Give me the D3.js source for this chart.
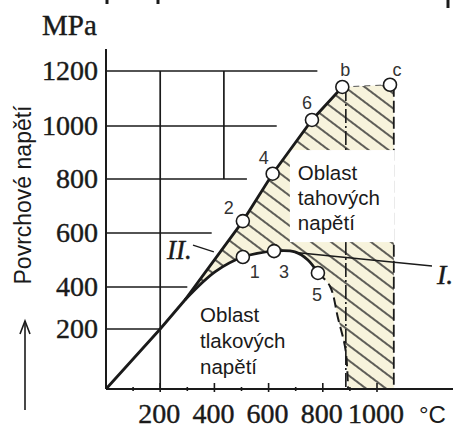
<!DOCTYPE html>
<html><head><meta charset="utf-8">
<script src="https://cdn.jsdelivr.net/npm/d3@7"></script>
<style>html,body{margin:0;padding:0;background:#fff}svg{display:block}</style>
</head><body>
<script>
// Surface stress against temperature: compression and tension areas
const tempTicks = [200, 400, 600, 800, 1000];
const tempMinor = [100, 300, 500, 700, 900];
const stressTicks = [200, 400, 600, 800, 1000, 1200];
// temperature where each horizontal grid line stops
const gridReach = [200, 300, 390, 520, 630, 780];

// upper limit line through points 2, 4, 6, b
const upperTemp = [0, 200, 291, 505, 615, 760, 872];
const upperStress = [0, 200, 338, 644, 820, 1022, 1142];
// lower curve II through points 1, 3, 5
const lowerTemp = [291, 402, 505, 620, 697, 745, 782];
const lowerStress = [338, 456, 511, 533, 530, 500, 452];
// dashed drop from point 5 down to the axis
const dropTemp = [782, 826, 856, 884, 893];
const dropStress = [452, 404, 252, 130, 0];
// marked points
const pointNames = ["1", "2", "3", "4", "5", "6", "b", "c"];
const pointTemp = [505, 505, 620, 615, 782, 760, 872, 1048];
const pointStress = [511, 644, 533, 820, 452, 1022, 1142, 1150];
const bLineTemp = 885;    // vertical through b
const limitTemp = 1062;   // right edge of the tension area
const limitStress = 1150;
// leader lines for curves I and II
const leaderITemp = [700, 1203], leaderIStress = [528, 478];
const leaderIITemp = [321, 398], leaderIIStress = [555, 530];

const W = 456, H = 429;
const x = d3.scaleLinear().domain([0, 1000]).range([106, 377]);
const y = d3.scaleLinear().domain([0, 200, 400, 600, 800, 1000, 1200])
  .range([389, 329, 287, 233, 179, 126, 71]);

const svg = d3.select("body").append("svg").attr("width", W).attr("height", H);
const serif = "'Liberation Serif', 'DejaVu Serif', serif";
const sans = "'Liberation Sans', Arial, sans-serif";
const ink = "#1a1a1a";

const zip = (a, b) => a.map((v, i) => [v, b[i]]);
const upper = zip(upperTemp, upperStress);
const lower = zip(lowerTemp, lowerStress);
const drop = zip(dropTemp, dropStress);

// hatching pattern
const defs = svg.append("defs");
const pat = defs.append("pattern").attr("id", "hatch")
  .attr("patternUnits", "userSpaceOnUse").attr("width", 12).attr("height", 12)
  .attr("patternTransform", "rotate(37)");
pat.append("line").attr("x1", 0).attr("y1", 6).attr("x2", 12).attr("y2", 6)
  .attr("stroke", "#2b2b2b").attr("stroke-width", 1.5);

const lineXY = d3.line().x(d => x(d[0])).y(d => y(d[1]));
const curveXY = d3.line().x(d => x(d[0])).y(d => y(d[1])).curve(d3.curveCatmullRom.alpha(0.5));

// tension area outline: limit line on top, curve II and the drop below
const topPts = upper.slice(2).concat([[pointTemp[7], pointStress[7]], [limitTemp, limitStress], [limitTemp, 0]]);
const outline = lineXY(topPts)
  + curveXY(drop.slice().reverse()).replace(/^M/, "L")
  + curveXY(lower.slice().reverse()).replace(/^M/, "L") + "Z";

svg.append("path").attr("d", outline).attr("fill", "#f7f3dc");
svg.append("path").attr("d", outline).attr("fill", "url(#hatch)");

// grid
stressTicks.forEach((s, i) => {
  svg.append("line").attr("x1", x(0)).attr("x2", x(gridReach[i]))
    .attr("y1", y(s)).attr("y2", y(s)).attr("stroke", ink).attr("stroke-width", 1.7);
});
svg.append("line").attr("x1", x(200)).attr("x2", x(200)).attr("y1", y(0)).attr("y2", y(1200))
  .attr("stroke", ink).attr("stroke-width", 1.7);
svg.append("line").attr("x1", x(435)).attr("x2", x(435)).attr("y1", y(800)).attr("y2", y(1200))
  .attr("stroke", ink).attr("stroke-width", 1.7);

// verticals: through b and the right limit
svg.append("line").attr("x1", x(bLineTemp)).attr("x2", x(bLineTemp))
  .attr("y1", y(pointStress[6])).attr("y2", y(0))
  .attr("stroke", ink).attr("stroke-width", 1.6).attr("stroke-dasharray", "14 3 2 3");
svg.append("line").attr("x1", x(limitTemp)).attr("x2", x(limitTemp))
  .attr("y1", y(limitStress)).attr("y2", y(0))
  .attr("stroke", ink).attr("stroke-width", 1.8).attr("stroke-dasharray", "12 4");
svg.append("line").attr("x1", x(pointTemp[6])).attr("x2", x(pointTemp[7]))
  .attr("y1", y(pointStress[6])).attr("y2", y(pointStress[7]))
  .attr("stroke", "#555").attr("stroke-width", 1).attr("stroke-dasharray", "6 5");

// white box behind the tension label
const tensionAt = [708, 796], pressureAt = [347, 233];
svg.append("rect").attr("x", x(tensionAt[0]) - 8).attr("y", y(tensionAt[1]) - 30)
  .attr("width", 105).attr("height", 92).attr("fill", "#fff");

// axes
svg.append("line").attr("x1", x(0)).attr("x2", 453).attr("y1", y(0)).attr("y2", y(0))
  .attr("stroke", ink).attr("stroke-width", 2);
svg.append("line").attr("x1", x(0)).attr("x2", x(0)).attr("y1", y(0)).attr("y2", y(1280))
  .attr("stroke", ink).attr("stroke-width", 2);
tempTicks.forEach(t => {
  svg.append("line").attr("x1", x(t)).attr("x2", x(t)).attr("y1", y(0) - 6).attr("y2", y(0) + 3)
    .attr("stroke", ink).attr("stroke-width", 1.6);
});
tempMinor.forEach(t => {
  svg.append("line").attr("x1", x(t)).attr("x2", x(t)).attr("y1", y(0) - 2).attr("y2", y(0) + 2)
    .attr("stroke", ink).attr("stroke-width", 1.6);
});

// tick labels
const serifText = sel => sel.attr("font-family", serif).attr("fill", ink)
  .attr("stroke", ink).attr("stroke-width", 0.4);
svg.selectAll(".tx").data(tempTicks).enter().append("text")
  .attr("x", d => x(d) - 1).attr("y", 423).attr("text-anchor", "middle")
  .attr("font-size", 28).text(d => d).call(serifText);
svg.selectAll(".ty").data(stressTicks).enter().append("text")
  .attr("x", 98).attr("y", d => y(d) + 9).attr("text-anchor", "end")
  .attr("font-size", 28).text(d => d).call(serifText);
svg.append("text").attr("x", 42).attr("y", 35)
  .attr("font-size", 29).text("MPa").call(serifText);
svg.append("text").attr("x", 419).attr("y", 423).attr("font-family", sans)
  .attr("font-size", 24).attr("fill", ink).text("°C");
svg.append("text").attr("transform", "translate(31,195) rotate(-90)")
  .attr("text-anchor", "middle").attr("font-family", sans).attr("font-size", 23)
  .attr("fill", ink).text("Povrchové napětí");
// upward arrow beside the axis title
svg.append("line").attr("x1", 25).attr("x2", 25).attr("y1", 321).attr("y2", 410)
  .attr("stroke", ink).attr("stroke-width", 1.6);
svg.append("path").attr("d", "M20,334 L25,321 L30,334").attr("fill", "none")
  .attr("stroke", ink).attr("stroke-width", 1.6);

// curves
svg.append("path").attr("d", lineXY(upper)).attr("fill", "none")
  .attr("stroke", ink).attr("stroke-width", 2.8);
svg.append("path").attr("d", curveXY(lower)).attr("fill", "none")
  .attr("stroke", ink).attr("stroke-width", 2.8);
svg.append("path").attr("d", curveXY(drop)).attr("fill", "none")
  .attr("stroke", ink).attr("stroke-width", 2).attr("stroke-dasharray", "10 5");

// leaders and curve labels
svg.append("line").attr("x1", x(leaderITemp[0])).attr("x2", x(leaderITemp[1]))
  .attr("y1", y(leaderIStress[0])).attr("y2", y(leaderIStress[1]))
  .attr("stroke", ink).attr("stroke-width", 1.5);
svg.append("line").attr("x1", x(leaderIITemp[0])).attr("x2", x(leaderIITemp[1]))
  .attr("y1", y(leaderIIStress[0])).attr("y2", y(leaderIIStress[1]))
  .attr("stroke", ink).attr("stroke-width", 1.3);
svg.append("text").attr("x", x(leaderIITemp[0]) - 26).attr("y", y(leaderIIStress[0]) + 14)
  .attr("font-style", "italic").attr("font-size", 27).text("II.").call(serifText);
svg.append("text").attr("x", x(leaderITemp[1]) + 5).attr("y", y(leaderIStress[1]) + 18)
  .attr("font-style", "italic").attr("font-size", 28).text("I.").call(serifText);

// marked points
const labelOffset = [[12, 15], [-14, -13], [10, 21], [-9, -16], [-1, 22], [-5, -17], [3, -17], [7, -15]];
pointNames.forEach((n, i) => {
  const px = x(pointTemp[i]), py = y(pointStress[i]);
  svg.append("circle").attr("cx", px).attr("cy", py).attr("r", 6.5)
    .attr("fill", "#fff").attr("stroke", ink).attr("stroke-width", 1.6);
  svg.append("text").attr("x", px + labelOffset[i][0]).attr("y", py + labelOffset[i][1] + 6)
    .attr("text-anchor", "middle").attr("font-family", sans).attr("font-size", 18)
    .attr("fill", "#333").text(n);
});

// area labels
const tensionLines = ["Oblast", "tahových", "napětí"];
const pressureLines = ["Oblast", "tlakových", "napětí"];
tensionLines.forEach((t, i) => {
  svg.append("text").attr("x", x(tensionAt[0])).attr("y", y(tensionAt[1]) + i * 25)
    .attr("font-family", sans).attr("font-size", 20.5).attr("fill", ink).text(t);
});
pressureLines.forEach((t, i) => {
  svg.append("text").attr("x", x(pressureAt[0])).attr("y", y(pressureAt[1]) + i * 26)
    .attr("font-family", sans).attr("font-size", 20.5).attr("fill", ink).text(t);
});

// fragments of the line above, cut at the top edge
[[107, 4], [158, 4], [448, 8]].forEach(d => {
  svg.append("line").attr("x1", d[0]).attr("x2", d[0]).attr("y1", 0).attr("y2", d[1])
    .attr("stroke", ink).attr("stroke-width", 3);
});
</script>
</body></html>
